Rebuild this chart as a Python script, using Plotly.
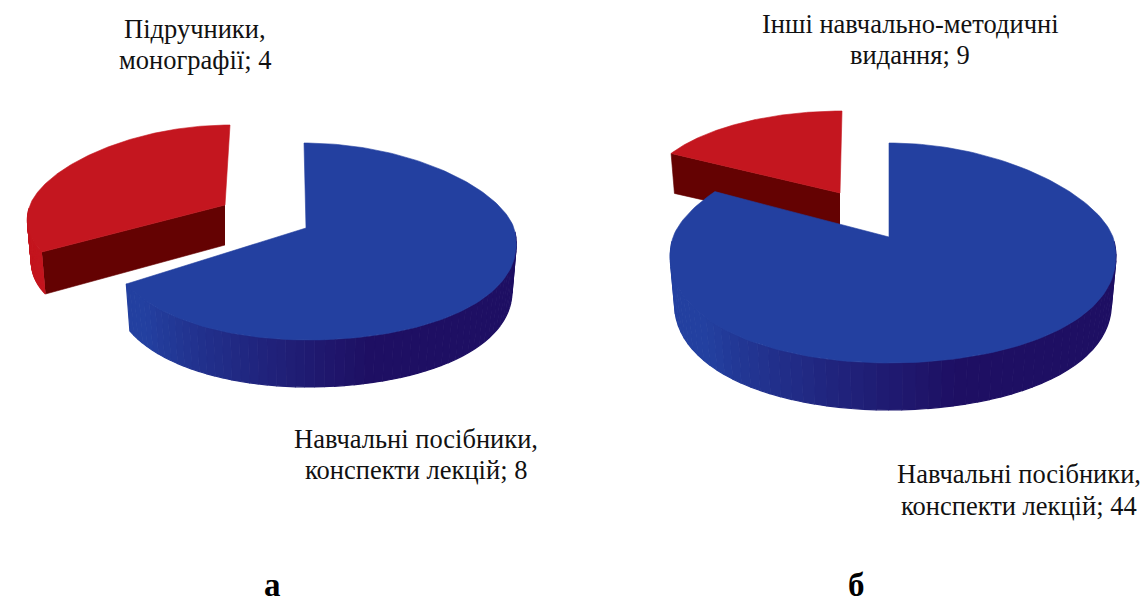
import numpy as np
import plotly.graph_objects as go

# Data
left_categories = ["Навчальні посібники,<br>конспекти лекцій", "Підручники,<br>монографії"]
left_values = [8, 4]
right_categories = ["Навчальні посібники,<br>конспекти лекцій", "Інші навчально-методичні<br>видання"]
right_values = [44, 9]
panel_labels = ["а", "б"]

# Projection styles for each wedge of the tilted pies
BLUE = dict(top="#2340a0", side_dark=(30, 15, 99), side_light=(35, 64, 160), face="#1e0f63")
RED = dict(top="#c4161f", side_dark=(150, 12, 18), side_light=(196, 22, 31), face="#640202")

left_styles = [
    dict(cx=306, cy=228, rxr=208, rxl=195, ryb=85, ryf=112, k=0.14, lean=-2, depth=47, **BLUE),
    dict(cx=225, cy=205, rxr=197, rxl=195, ryb=80, ryf=94, k=0.14, lean=5, depth=42, **RED),
]
right_styles = [
    dict(cx=889, cy=237, rxr=224, rxl=216, ryb=94, ryf=126, k=0.165, lean=0, depth=47, **BLUE),
    dict(cx=840, cy=193, rxr=194, rxl=194, ryb=82, ryf=90, k=0.0, lean=2, depth=40, **RED),
]

LABELS = [
    (left_categories[0], left_values[0], 416, 439, 31),
    (left_categories[1], left_values[1], 195, 29, 31),
    (right_categories[0], right_values[0], 1019, 474, 32),
    (right_categories[1], right_values[1], 910, 24, 31),
]
PANELS = [(panel_labels[0], 272, 585), (panel_labels[1], 856, 585)]


def project(s, deg, scale=1.0):
    t = np.radians(deg)
    sn, cs = np.sin(t), np.cos(t)
    rx = np.where(sn >= 0, s["rxr"], s["rxl"])
    ry = np.where(cs >= 0, s["ryb"], s["ryf"])
    x = s["cx"] + scale * (rx * sn * (1 - s["k"] * cs) + s["lean"] * cs)
    y = s["cy"] - ry * cs
    return x, y


def poly(fig, x, y, color, width=0.6):
    fig.add_trace(go.Scatter(
        x=list(x), y=list(y), mode="lines", fill="toself", fillcolor=color,
        line=dict(color=color, width=width), hoverinfo="skip", showlegend=False,
    ))


def draw_wedge(fig, s, a0, a1):
    side_scale = 0.98
    arc = np.linspace(a0, a1, 181)
    # radial cut face, visible only for the wedge whose cut looks to the viewer
    if a0 > 200:
        ax, ay = project(s, np.array([a0]))
        apex = (s["cx"], s["cy"])
        poly(fig,
             [apex[0], ax[0], s["cx"] + (ax[0] - s["cx"]) * side_scale, apex[0]],
             [apex[1], ay[0], ay[0] + s["depth"], apex[1] + s["depth"] - 2],
             s["face"])
    # outer curved wall, in angular strips so that the shading runs round the rim
    lo, hi = max(a0, 92), min(a1, 268)
    if lo < hi:
        edges = np.linspace(lo, hi, 61)
        for e0, e1 in zip(edges[:-1], edges[1:]):
            seg = np.linspace(e0, e1, 3)
            tx, ty = project(s, seg)
            bx, by = project(s, seg[::-1], side_scale)
            mid = (e0 + e1) / 2
            w = min(1.0, max(0.0, (mid - 165) / 65))
            c = [round(d + (l - d) * w) for d, l in zip(s["side_dark"], s["side_light"])]
            poly(fig, np.r_[tx, bx], np.r_[ty, by + s["depth"]],
                 f"rgb({c[0]},{c[1]},{c[2]})", width=1.2)
    # top surface
    tx, ty = project(s, arc)
    poly(fig, np.r_[s["cx"], tx, s["cx"]], np.r_[s["cy"], ty, s["cy"]], s["top"])


def draw_pie(fig, values, styles):
    total = sum(values)
    spans = []
    start = 0.0
    for v in values:
        end = start + 360.0 * v / total
        spans.append((start, end))
        start = end
    # the small wedge sits behind the large one
    for i in [1, 0]:
        draw_wedge(fig, styles[i], spans[i][0], spans[i][1])


fig = go.Figure()
draw_pie(fig, left_values, left_styles)
draw_pie(fig, right_values, right_styles)

annotations = []
FONT = "Liberation Serif"
for cat, val, x, y, gap in LABELS:
    for i, line in enumerate(f"{cat}; {val}".split("<br>")):
        annotations.append(dict(
            x=x, y=y + i * gap, xref="x", yref="y", text=line, showarrow=False,
            xanchor="center", yanchor="middle",
            font=dict(family=FONT, size=26.5, color="#111111"),
        ))
for text, x, y in PANELS:
    annotations.append(dict(
        x=x, y=y, xref="x", yref="y", text=f"<b>{text}</b>", showarrow=False,
        xanchor="center", yanchor="middle",
        font=dict(family=FONT, size=33, color="#000000"),
    ))

fig.update_layout(
    width=1145, height=602, margin=dict(l=0, r=0, t=0, b=0),
    paper_bgcolor="white", plot_bgcolor="white", showlegend=False,
    xaxis=dict(range=[0, 1145], visible=False, fixedrange=True),
    yaxis=dict(range=[602, 0], visible=False, fixedrange=True),
    annotations=annotations,
)
fig.write_html("out.html", config={"displayModeBar": False},
               post_script="document.body.style.margin='0';document.documentElement.style.overflow='hidden';")
